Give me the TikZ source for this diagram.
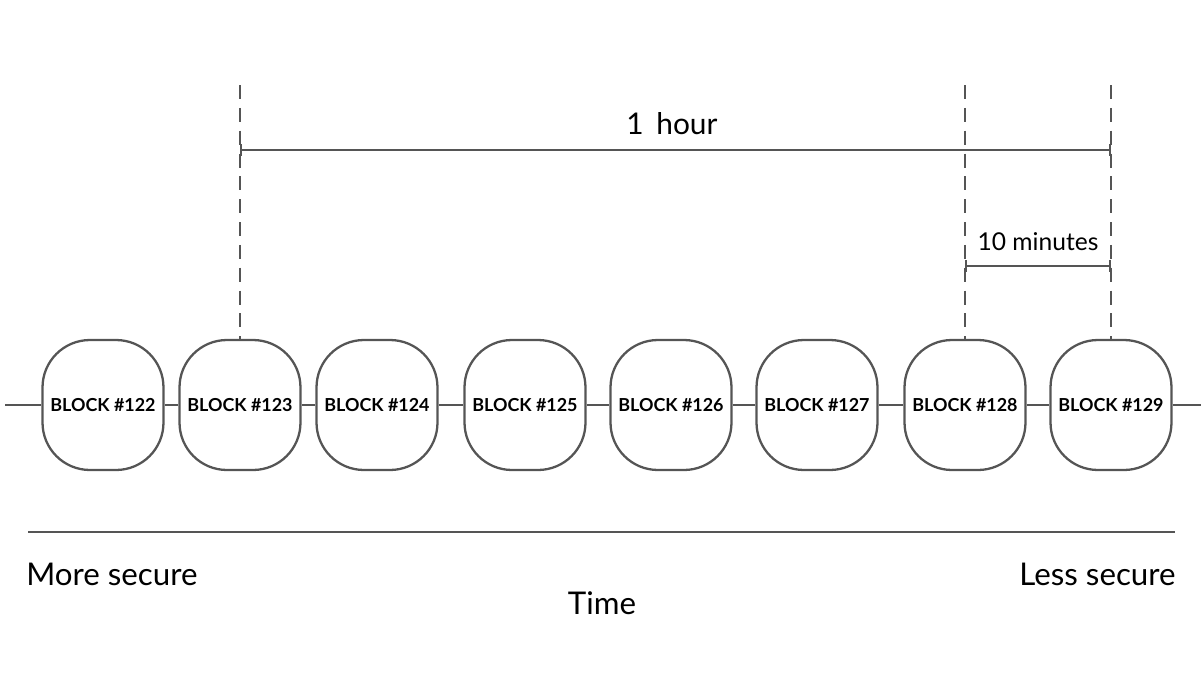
\documentclass[tikz,border=0pt]{standalone}
\usepackage{fontspec}
\setmainfont{Lato}
\usetikzlibrary{positioning,arrows.meta,calc}

\definecolor{linegray}{HTML}{555555}

\begin{document}
\begin{tikzpicture}[x=0.02cm, y=-0.02cm, every node/.style={align=center, text=black},
  blockbox/.style={draw=linegray, line width=1.3pt, rounded corners=27pt,
    minimum width=2.42cm, minimum height=2.6cm, inner sep=0pt,
    font=\bfseries\fontsize{10.2}{12}\selectfont},
  chain/.style={draw=linegray, line width=1.3pt},
  guide/.style={draw=linegray, line width=1.1pt, dash pattern=on 8pt off 5pt},
  span/.style={draw=linegray, line width=1.1pt, {Bar[width=7pt]}-{Bar[width=7pt]}}]
  \useasboundingbox (0,0) rectangle (1204,700);

  % blocks
  \node[blockbox] (b122) at (103,405) {BLOCK \#122};
  \node[blockbox] (b123) at (240,405) {BLOCK \#123};
  \node[blockbox] (b124) at (377,405) {BLOCK \#124};
  \node[blockbox] (b125) at (525,405) {BLOCK \#125};
  \node[blockbox] (b126) at (671,405) {BLOCK \#126};
  \node[blockbox] (b127) at (817,405) {BLOCK \#127};
  \node[blockbox] (b128) at (965,405) {BLOCK \#128};
  \node[blockbox] (b129) at (1111,405) {BLOCK \#129};
  \coordinate (chainL) at (5,405);
  \coordinate (chainR) at (1201,405);
  \draw[chain] (chainL) -- (b122) -- (b123) -- (b124) -- (b125)
    -- (b126) -- (b127) -- (b128) -- (b129) -- (chainR);

  % time marks
  \coordinate (top123) at (b123.north |- 0,85);
  \coordinate (top128) at (b128.north |- 0,85);
  \coordinate (top129) at (b129.north |- 0,85);
  \draw[guide] (top123) -- (b123.north);
  \draw[guide] (top128) -- (b128.north);
  \draw[guide] (top129) -- (b129.north);

  \coordinate (hourL) at (b123.north |- 0,150);
  \coordinate (hourR) at (b129.north |- 0,150);
  \draw[span] (hourL) -- (hourR);
  \node[font=\fontsize{17}{20}\selectfont] (hour) at (672,124) {1\, hour};

  \coordinate (minL) at (b128.north |- 0,266);
  \coordinate (minR) at (b129.north |- 0,266);
  \draw[span] (minL) -- (minR);
  \node[font=\fontsize{14}{16}\selectfont] (mins) at (1038,242) {10 minutes};

  % security axis
  \coordinate (axisL) at (28,532);
  \coordinate (axisR) at (1175,532);
  \draw[chain] (axisL) -- (axisR);
  \node[anchor=west, inner sep=0pt, font=\fontsize{17.8}{20}\selectfont] (more) at (26,574) {More secure};
  \node[anchor=east, inner sep=0pt, font=\fontsize{17.8}{20}\selectfont] (less) at (1176,574) {Less secure};
  \node[font=\fontsize{17.8}{20}\selectfont] (time) at (602,603) {Time};
\end{tikzpicture}
\end{document}
